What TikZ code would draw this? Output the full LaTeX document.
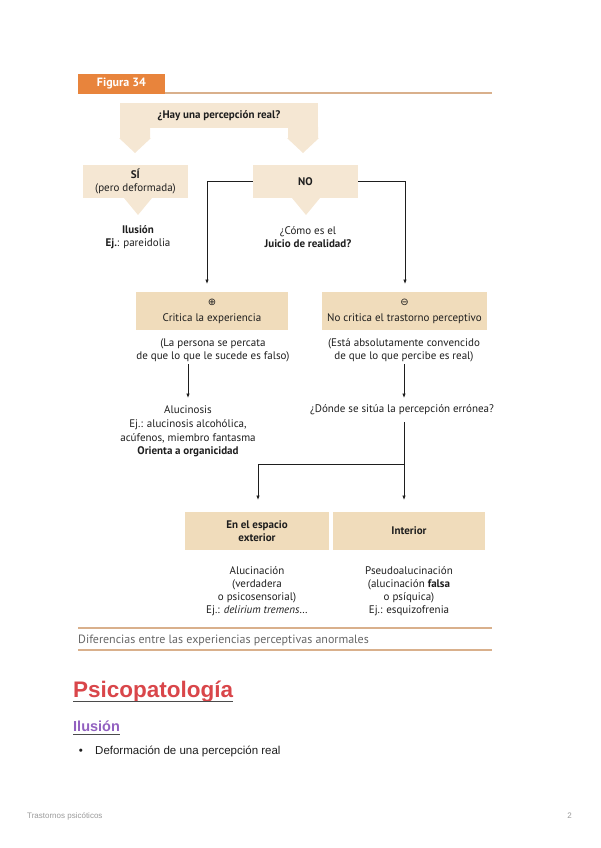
\documentclass[tikz,border=0pt]{standalone}
\usepackage{fontspec}
\setmainfont{PT Sans}
\newfontfamily\bodyfont{Liberation Sans}
\newfontfamily\symfont{DejaVu Sans}
\usetikzlibrary{arrows.meta}
\definecolor{orng}{HTML}{E8843C}
\definecolor{boxlight}{HTML}{F5E7D3}
\definecolor{boxmid}{HTML}{F0DCBB}
\definecolor{tanline}{HTML}{D9B08C}
\definecolor{captgray}{HTML}{666666}
\definecolor{headred}{HTML}{D9464A}
\definecolor{headpurple}{HTML}{9260C0}
\definecolor{ink}{HTML}{1E1E1E}
\tikzset{
  figtxt/.style={align=center, inner sep=0pt, text=ink, font=\fontsize{11}{13}\selectfont},
  lbox/.style={fill=boxlight, draw=none, inner sep=0pt, align=center, text=ink, font=\fontsize{11}{13}\selectfont},
  mbox/.style={fill=boxmid, draw=none, inner sep=0pt, align=center, text=ink, font=\fontsize{11}{13}\selectfont},
  arr/.style={-{Latex[length=4.5pt,width=3.6pt]}, line width=0.8pt, draw=ink},
  rulel/.style={draw=tanline, line width=1.6pt},
  blockarrow/.style={fill=boxlight, draw=none},
}
\begin{document}
\begin{tikzpicture}[x=1pt,y=-1pt]
\useasboundingbox (0,0) rectangle (600,848);

% Figure header
\node[fill=orng, minimum width=87pt, minimum height=20pt, inner sep=0pt, text=white,
      font=\bfseries\fontsize{12}{13}\selectfont] (tab) at (121.5,84) {Figura 34};
\draw[rulel] (165,93) -- (492,93);

% Top question box
\node[lbox, minimum width=198pt, minimum height=25pt, font=\bfseries\fontsize{11}{13}\selectfont] (hay) at (219,115.5) {¿Hay una percepción real?};
\fill[blockarrow] (120,127) -- (150,127) -- (150,138) -- (151,138) -- (135,153) -- (119,138) -- (120,138) -- cycle;
\fill[blockarrow] (288,127) -- (318,127) -- (318,138) -- (319,138) -- (303,153) -- (287,138) -- (288,138) -- cycle;

% SI / NO boxes
\node[lbox, minimum width=105pt, minimum height=33pt] (si) at (135.5,181.5) {\textbf{SÍ}\\(pero deformada)};
\node[lbox, minimum width=105pt, minimum height=33pt, font=\bfseries\fontsize{11}{13}\selectfont] (no) at (305.5,181.5) {NO};
\fill[blockarrow] (124,198) -- (152,198) -- (138,215) -- cycle;
\fill[blockarrow] (292,198) -- (320,198) -- (306,215) -- cycle;

\node[figtxt] (ilusion) at (138,237) {\textbf{Ilusión}\\\textbf{Ej.}: pareidolia};
\node[figtxt] (juicio) at (308,237) {¿Cómo es el\\\textbf{Juicio de realidad?}};

% Critica boxes
\node[mbox, minimum width=152pt, minimum height=38pt] (crit) at (212,311)
  {{\symfont\fontsize{10}{10}\selectfont ⊕}\\[3pt]Critica la experiencia};
\node[mbox, minimum width=165pt, minimum height=38pt] (nocrit) at (404.5,311)
  {{\symfont\fontsize{10}{10}\selectfont ⊖}\\[3pt]No critica el trastorno perceptivo};

\coordinate (critin) at (207,284);
\coordinate (nocritin) at (405,284);
\draw[arr] (no.west) -| (critin);
\draw[arr] (no.east) -| (nocritin);

\node[figtxt] (persona) at (213,350) {(La persona se percata\\de que lo que le sucede es falso)};
\node[figtxt] (esta) at (404,350) {(Está absolutamente convencido\\de que lo que percibe es real)};

\node[figtxt, font=\fontsize{11}{13.7}\selectfont] (alucinosis) at (188,431.5)
  {Alucinosis\\Ej.: alucinosis alcohólica,\\acúfenos, miembro fantasma\\\textbf{Orienta a organicidad}};
\node[figtxt] (donde) at (402,410) {¿Dónde se sitúa la percepción errónea?};

\coordinate (p1) at (188,364);
\coordinate (p2) at (188,398);
\draw[arr] (p1) -- (p2);
\coordinate (q1) at (404,364);
\coordinate (q2) at (404,398);
\draw[arr] (q1) -- (q2);

\coordinate (d1) at (404,422);
\coordinate (split) at (404,464);
\coordinate (ein) at (258,500);
\coordinate (iin) at (404,500);
\draw[arr] (d1) -- (iin);
\draw[arr] (split) -| (ein);

% Bottom boxes
\node[mbox, minimum width=144pt, minimum height=38pt, font=\bfseries\fontsize{11}{13}\selectfont] (esp) at (257,531) {En el espacio\\exterior};
\node[mbox, minimum width=152pt, minimum height=38pt, font=\bfseries\fontsize{11}{13}\selectfont] (int) at (409,531) {Interior};

\node[figtxt] (alucinacion) at (257,591.5)
  {Alucinación\\(verdadera\\o psicosensorial)\\Ej.: \textit{delirium tremens}\dots};
\node[figtxt] (pseudo) at (409,591.5)
  {Pseudoalucinación\\(alucinación \textbf{falsa}\\o psíquica)\\Ej.: esquizofrenia};

% Caption
\draw[rulel] (78,628) -- (492,628);
\draw[rulel] (78,650) -- (492,650);
\node[anchor=base west, inner sep=0pt, text=captgray, font=\fontsize{12}{13}\selectfont] (caption) at (78,643.5)
  {Diferencias entre las experiencias perceptivas anormales};

% Body text
\node[anchor=base west, inner sep=0pt, text=headred, font=\bodyfont\bfseries\fontsize{22.5}{24}\selectfont] (psico) at (73,697) {Psicopatología};
\draw[draw=ink!80, line width=1.2pt] (psico.south west |- 0,701.5) -- (psico.south east |- 0,701.5);
\node[anchor=base west, inner sep=0pt, text=headpurple, font=\bodyfont\bfseries\fontsize{14.5}{16}\selectfont] (ilu) at (73,731) {Ilusión};
\draw[draw=ink!80, line width=1pt] (ilu.south west |- 0,734.5) -- (ilu.south east |- 0,734.5);
\node[anchor=base, inner sep=0pt, text=ink, font=\bodyfont\fontsize{11.5}{14}\selectfont] (bul) at (81,754) {•};
\node[anchor=base west, inner sep=0pt, text=ink, font=\bodyfont\fontsize{11.5}{14}\selectfont] (def) at (95,754) {Deformación de una percepción real};

% Footer
\node[anchor=base west, inner sep=0pt, text=black!40, font=\bodyfont\fontsize{8}{9}\selectfont] (foot) at (27,818) {Trastornos psicóticos};
\node[anchor=base east, inner sep=0pt, text=black!40, font=\bodyfont\fontsize{8}{9}\selectfont] (pg) at (572,818) {2};
\end{tikzpicture}
\end{document}
